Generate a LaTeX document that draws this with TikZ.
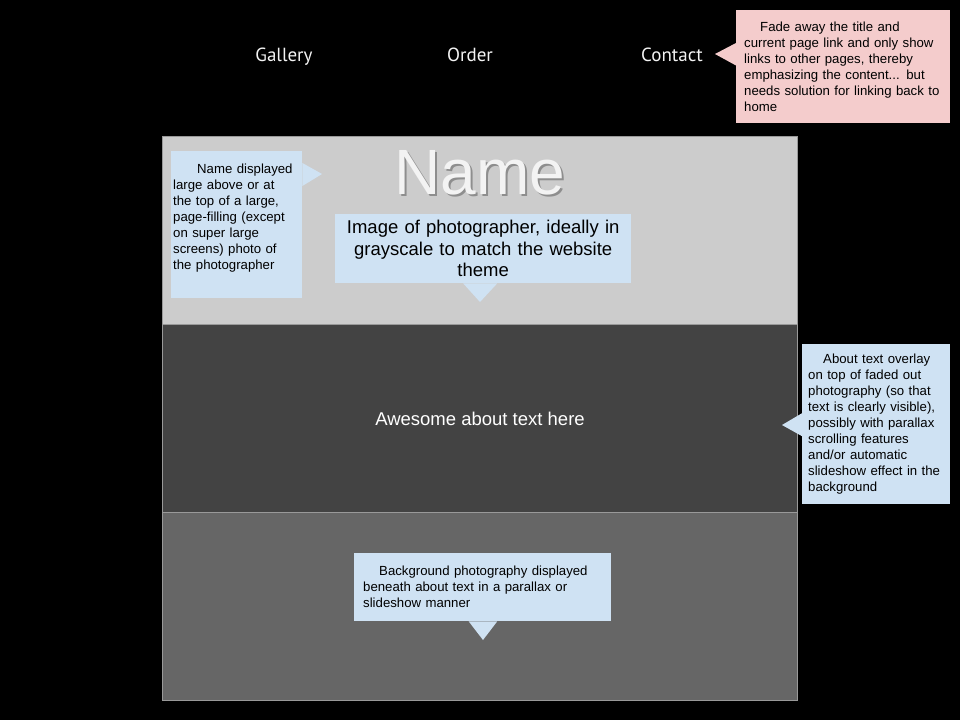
\documentclass[tikz,border=0pt]{standalone}
\usepackage{fontspec}
\setmainfont{Liberation Sans}
\newfontfamily\navfont{PT Sans}
\usetikzlibrary{positioning}

\definecolor{notebg}{HTML}{CFE2F3}
\definecolor{fadebg}{HTML}{F4CCCC}
\definecolor{herogray}{HTML}{CCCCCC}
\definecolor{aboutgray}{HTML}{434343}
\definecolor{photogray}{HTML}{666666}
\definecolor{navwhite}{HTML}{F3F3F3}
\definecolor{shadowgray}{HTML}{8E8E8E}

\begin{document}
\begin{tikzpicture}[x=1pt, y=-1pt,
    nav link/.style={anchor=base, text=navwhite, font=\navfont\fontsize{19}{22}\selectfont},
    panel/.style={draw=black!40, line width=0.7pt, minimum width=635pt, minimum height=188pt, outer sep=0pt, inner sep=0pt},
    note/.style={fill=notebg, anchor=north west, align=left, inner xsep=9pt, inner ysep=0pt, font=\fontsize{13.2}{16}\selectfont},
    big name/.style={anchor=base, font=\fontsize{64}{70}\selectfont}]

    \useasboundingbox (0,0) rectangle (960,720);
    \fill[black] (0,0) rectangle (960,720);

    % page sections
    \node[panel, fill=herogray, anchor=north west] (hero) at (162,136) {};
    \node[panel, fill=aboutgray, below=0pt of hero] (about) {};
    \node[panel, fill=photogray, below=0pt of about] (bgphoto) {};

    % navigation
    \node[nav link] (gallery) at (284,61) {Gallery};
    \node[nav link] (order) at (470,61) {Order};
    \node[nav link] (contact) at (672,61) {Contact};

    % title with its shadow in one node
    \node[big name, text=navwhite] (title) at (480,194)
        {\makebox[0pt][l]{\hspace{2pt}\raisebox{-2pt}{\color{shadowgray}Name}}Name};

    \node[anchor=base, text=white, font=\fontsize{18.5}{21.5}\selectfont] (abouttext) at (480,425) {Awesome about text here};

    % notes
    \node[note, fill=fadebg, text width=198pt, inner xsep=8pt, minimum height=113pt] (fadenote) at (736,10)
        {\hspace*{16pt}Fade away the title and\\current page link and only show\\links to other pages, thereby\\emphasizing the content... but\\needs solution for linking back to\\home};
    \node[note, text width=127pt, inner xsep=2pt, minimum height=147pt] (namenote) at (171,151)
        {\hspace*{24pt}Name displayed\\large above or at\\the top of a large,\\page-filling (except\\on super large\\screens) photo of\\the photographer\\ \mbox{}};
    \node[note, align=center, text width=280pt, inner xsep=8pt, minimum height=69pt, font=\fontsize{18.5}{21.5}\selectfont] (photonote) at (335,214)
        {Image of photographer, ideally in\\grayscale to match the website\\theme};
    \node[note, text width=136pt, inner xsep=6pt, minimum height=160pt] (aboutnote) at (802,344)
        {\hspace*{15pt}About text overlay\\on top of faded out\\photography (so that\\text is clearly visible),\\possibly with parallax\\scrolling features\\and/or automatic\\slideshow effect in the\\background};
    \node[note, text width=239pt, minimum height=68pt] (bgnote) at (354,553)
        {\hspace*{16pt}Background photography displayed\\beneath about text in a parallax or\\slideshow manner};

    % pointer tips
    \coordinate (fadetip) at (715,54);
    \coordinate (nametip) at (322,174);
    \coordinate (phototip) at (480,302);
    \coordinate (abouttip) at (782,425);
    \coordinate (bgtip) at (483,640);

    \fill[fadebg] ([yshift=-33pt]fadenote.north west) -- (fadetip) -- ([yshift=-55.5pt]fadenote.north west) -- cycle;
    \fill[notebg] ([yshift=-12pt]namenote.north east) -- (nametip) -- ([yshift=-35pt]namenote.north east) -- cycle;
    \fill[notebg] ([xshift=-20pt]photonote.south) -- (phototip) -- ([xshift=14pt]photonote.south) -- cycle;
    \fill[notebg] ([yshift=11pt]aboutnote.west) -- (abouttip) -- ([yshift=-12pt]aboutnote.west) -- cycle;
    \fill[notebg] ([xshift=-14pt]bgnote.south) -- (bgtip) -- ([xshift=14.5pt]bgnote.south) -- cycle;
\end{tikzpicture}
\end{document}
